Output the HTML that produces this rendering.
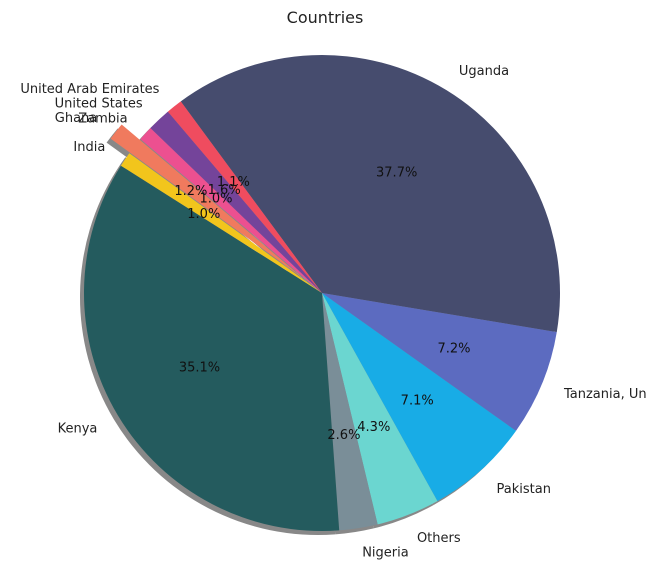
<!DOCTYPE html>
<html><head><meta charset="utf-8"><style>
html,body{margin:0;padding:0;background:#fff;width:648px;height:566px;overflow:hidden}
text{font-family:"DejaVu Sans","Liberation Sans",sans-serif}
</style></head><body>
<svg id="chart" width="648" height="566">
<text x="325" y="23" text-anchor="middle" font-size="16" fill="#222">Countries</text>
<g id="shadow"></g><g id="slices"></g><g id="labels"></g>
</svg>
<script>
const categories = ["Uganda","Tanzania, Un","Pakistan","Others","Nigeria","Kenya","India","Ghana","Zambia","United States","United Arab Emirates"];
const values = [37.7,7.2,7.1,4.3,2.6,35.1,1.0,1.2,1.0,1.6,1.1];
const pctLabels = ["37.7%","7.2%","7.1%","4.3%","2.6%","35.1%","1.0%","1.2%","1.0%","1.6%","1.1%"];
const colors = ["#464c6e","#5c6bc0","#18ace6","#6bd6d0","#7a8e98","#245b5e","#f2c51c","#f07a5e","#ec5090","#74449a","#ef4c5f"];
const explode = [0,0,0,0,0,0,0,0.1,0,0,0];

const cx=322, cy=293, R=238, start=-36.4;
const ns="http://www.w3.org/2000/svg";
const total=values.reduce((a,b)=>a+b,0);
function pt(a,r,ox,oy){const t=a*Math.PI/180;return [ox+r*Math.sin(t), oy-r*Math.cos(t)];}
function arcPath(a0,a1,ox,oy){
  const p0=pt(a0,R,ox,oy), p1=pt(a1,R,ox,oy);
  const large=(a1-a0)>180?1:0;
  return `M${ox},${oy} L${p0[0]},${p0[1]} A${R},${R} 0 ${large} 1 ${p1[0]},${p1[1]} Z`;
}
const gS=document.getElementById('shadow'), gP=document.getElementById('slices'), gL=document.getElementById('labels');
let a=start;
values.forEach((v,i)=>{
  const span=v/total*360, a0=a, a1=a+span, mid=a+span/2; a=a1;
  const e=pt(mid,explode[i]*R,0,0);
  const ox=cx+e[0], oy=cy+e[1];
  const s=document.createElementNS(ns,'path');
  s.setAttribute('d',arcPath(a0,a1,ox-4,oy+4));
  s.setAttribute('fill','#888');
  
  
  gS.appendChild(s);
  const p=document.createElementNS(ns,'path');
  p.setAttribute('d',arcPath(a0,a1,ox,oy));
  p.setAttribute('fill',colors[i]);
  
  
  gP.appendChild(p);
  const lp=pt(mid,R*1.1,ox,oy);
  const t=document.createElementNS(ns,'text');
  t.setAttribute('x',lp[0]); t.setAttribute('y',lp[1]+5);
  t.setAttribute('font-size','13'); t.setAttribute('fill','#222');
  t.setAttribute('text-anchor', lp[0]>cx?'start':'end');
  t.textContent=categories[i];
  
  
  gL.appendChild(t);
  const pp=pt(mid,R*0.6,ox,oy);
  const q=document.createElementNS(ns,'text');
  q.setAttribute('x',pp[0]); q.setAttribute('y',pp[1]+5);
  q.setAttribute('font-size','13'); q.setAttribute('fill','#111');
  q.setAttribute('text-anchor','middle');
  q.textContent=pctLabels[i];
  
  
  gL.appendChild(q);
});
</script>
</body></html>
